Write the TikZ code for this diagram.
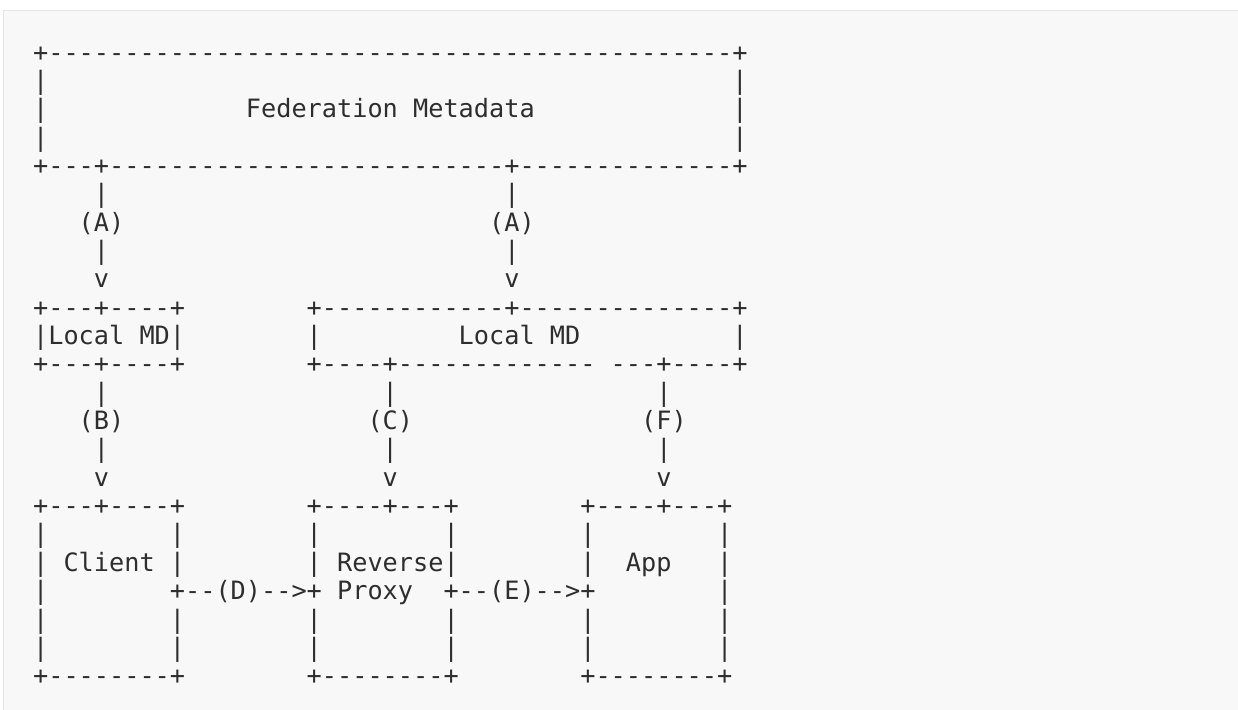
\documentclass[tikz,border=0pt]{standalone}
\usepackage{fontspec}
\setmonofont{DejaVu Sans Mono}
\definecolor{pagebg}{HTML}{FFFFFF}
\definecolor{codebg}{HTML}{F8F8F8}
\definecolor{codeborder}{HTML}{E6E6E6}
\definecolor{ink}{HTML}{2E2E2E}
\newcommand\cellx[1]{(33.1+15.2*#1)}
\newcommand\T[3]{\node[txt] (n-#2-#1) at ({33.1+15.2*#1},{61+28.35*(#2-1)}) {#3};}
\begin{document}
\begin{tikzpicture}[x=1pt,y=-1pt,
  txt/.style={anchor=base west,inner sep=0pt,outer sep=0pt,text=ink,
    font=\ttfamily\fontsize{25.25}{30}\selectfont},
  block/.style={fill=codebg,draw=codeborder,line width=1.2pt}]
\useasboundingbox (0,0) rectangle (1238,709);
\clip (0,0) rectangle (1238,709);
\fill[pagebg] (0,0) rectangle (1238,709);
\path[block] (3.5,10.5) rectangle (1260,730);
% row 1-5: Federation Metadata box
\T{0}{1}{+---------------------------------------------+}
\T{0}{2}{|}\T{46}{2}{|}
\T{0}{3}{|}\T{14}{3}{Federation Metadata}\T{46}{3}{|}
\T{0}{4}{|}\T{46}{4}{|}
\T{0}{5}{+---+--------------------------+--------------+}
% rows 6-9: (A) arrows
\T{4}{6}{|}\T{31}{6}{|}
\T{3}{7}{(A)}\T{30}{7}{(A)}
\T{4}{8}{|}\T{31}{8}{|}
\T{4}{9}{v}\T{31}{9}{v}
% rows 10-12: Local MD boxes
\T{0}{10}{+---+----+}\T{18}{10}{+------------+--------------+}
\T{0}{11}{|Local MD|}\T{18}{11}{|}\T{28}{11}{Local MD}\T{46}{11}{|}
\T{0}{12}{+---+----+}\T{18}{12}{+----+-------------}\T{38}{12}{---+----+}
% rows 13-16: (B) (C) (F) arrows
\T{4}{13}{|}\T{23}{13}{|}\T{41}{13}{|}
\T{3}{14}{(B)}\T{22}{14}{(C)}\T{40}{14}{(F)}
\T{4}{15}{|}\T{23}{15}{|}\T{41}{15}{|}
\T{4}{16}{v}\T{23}{16}{v}\T{41}{16}{v}
% rows 17-23: Client, Reverse Proxy, App
\T{0}{17}{+---+----+}\T{18}{17}{+----+---+}\T{36}{17}{+----+---+}
\T{0}{18}{|}\T{9}{18}{|}\T{18}{18}{|}\T{27}{18}{|}\T{36}{18}{|}\T{45}{18}{|}
\T{0}{19}{|}\T{2}{19}{Client}\T{9}{19}{|}\T{18}{19}{|}\T{20}{19}{Reverse|}\T{36}{19}{|}\T{39}{19}{App}\T{45}{19}{|}
\T{0}{20}{|}\T{9}{20}{+--(D)-->+}\T{20}{20}{Proxy}\T{27}{20}{+--(E)-->+}\T{45}{20}{|}
\T{0}{21}{|}\T{9}{21}{|}\T{18}{21}{|}\T{27}{21}{|}\T{36}{21}{|}\T{45}{21}{|}
\T{0}{22}{|}\T{9}{22}{|}\T{18}{22}{|}\T{27}{22}{|}\T{36}{22}{|}\T{45}{22}{|}
\T{0}{23}{+--------+}\T{18}{23}{+--------+}\T{36}{23}{+--------+}
\end{tikzpicture}
\end{document}
